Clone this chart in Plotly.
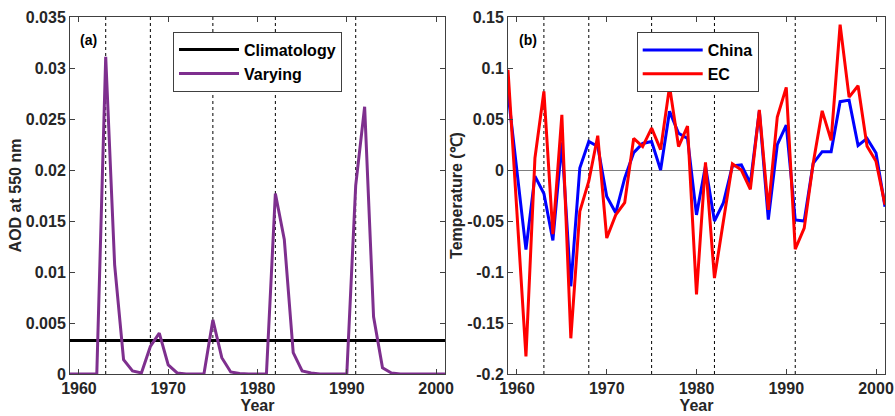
import plotly.graph_objects as go

years = list(range(1959, 2002))

aod_varying = [0, 0, 0, 0, 0.0311, 0.0107, 0.0014, 0.0003, 0.0001, 0.0027, 0.0040,
               0.0009, 0.0001, 0, 0, 0, 0.0053, 0.0016, 0.0002, 0.00005, 0, 0, 0,
               0.0177, 0.0132, 0.0021, 0.0003, 0.0001, 0, 0, 0, 0, 0.0185, 0.0262,
               0.0056, 0.0006, 0.0001, 0, 0, 0, 0, 0, 0]
aod_climatology = 0.00328

temp_china = [0.0755, -0.002, -0.078, -0.006, -0.023, -0.069, 0.027, -0.114, 0.002, 0.028,
              0.023, -0.026, -0.042, -0.008, 0.017, 0.026, 0.028, 0.0, 0.0575, 0.036,
              0.031, -0.044, 0.004, -0.050, -0.032, 0.004, 0.005, -0.013, 0.058, -0.0487,
              0.0248, 0.044, -0.049, -0.050, 0.0066, 0.018, 0.018, 0.067, 0.0685, 0.024,
              0.031, 0.0167, -0.036]
temp_ec = [0.0983, -0.042, -0.1827, 0.0117, 0.077, -0.063, 0.054, -0.165, -0.0406, -0.011,
           0.0336, -0.0667, -0.044, -0.032, 0.031, 0.023, 0.041, 0.020, 0.082, 0.023,
           0.043, -0.122, 0.0075, -0.106, -0.05, 0.006, 0.0, -0.019, 0.059, -0.039,
           0.052, 0.081, -0.0775, -0.057, 0.0066, 0.058, 0.029, 0.1425, 0.0715, 0.0826,
           0.0233, 0.0085, -0.034]

volcano_years = [1963, 1968, 1975, 1982, 1991]

x_ticks = [1960, 1970, 1980, 1990, 2000]
aod_ticks = [0, 0.005, 0.01, 0.015, 0.02, 0.025, 0.03, 0.035]
aod_ticktext = ["0", "0.005", "0.01", "0.015", "0.02", "0.025", "0.03", "0.035"]
temp_ticks = [-0.2, -0.15, -0.1, -0.05, 0, 0.05, 0.1, 0.15]
temp_ticktext = ["-0.2", "-0.15", "-0.1", "-0.05", "0", "0.05", "0.1", "0.15"]

FONT = "Liberation Sans, Arial, sans-serif"
W, H = 895, 416
ML, MR, MT, MB = 70, 10, 17, 42
PW, PH = W - ML - MR, H - MT - MB


def px(x):
    return (x - ML) / PW


def py(y):
    return 1 - (y - MT) / PH


fig = go.Figure()

fig.add_trace(go.Scatter(x=years, y=[aod_climatology] * len(years), mode="lines",
                         line=dict(color="black", width=3), name="Climatology",
                         xaxis="x", yaxis="y", legend="legend"))
fig.add_trace(go.Scatter(x=years, y=aod_varying, mode="lines",
                         line=dict(color="#7E2F8E", width=3), name="Varying",
                         xaxis="x", yaxis="y", legend="legend"))
fig.add_trace(go.Scatter(x=years, y=temp_china, mode="lines",
                         line=dict(color="#0000FF", width=3), name="China",
                         xaxis="x2", yaxis="y2", legend="legend2"))
fig.add_trace(go.Scatter(x=years, y=temp_ec, mode="lines",
                         line=dict(color="#FF0000", width=3), name="EC",
                         xaxis="x2", yaxis="y2", legend="legend2"))

shapes = []
for xr, yr in (("x", "y"), ("x2", "y2")):
    for vy in volcano_years:
        shapes.append(dict(type="line", xref=xr, yref=yr + " domain", x0=vy, x1=vy,
                           y0=0, y1=1, line=dict(color="black", width=1, dash="3px,3px"),
                           layer="below"))

axis_common = dict(showline=True, mirror="ticks", linecolor="#404040", linewidth=1,
                   ticks="inside", ticklen=5, tickcolor="#404040", showgrid=False,
                   automargin=False,
                   tickfont=dict(family=FONT, size=16, color="#262626", weight="bold"))

title_font = dict(family=FONT, size=16, color="#262626", weight="bold")

fig.update_layout(
    width=W, height=H,
    margin=dict(l=ML, r=MR, t=MT, b=MB, autoexpand=False),
    paper_bgcolor="white", plot_bgcolor="white",
    showlegend=True,
    shapes=shapes,
    xaxis=dict(domain=[0, px(445)], range=[1959, 2001], tickvals=x_ticks,
               title=dict(text="Year", font=title_font, standoff=0), anchor="y",
               zeroline=False, **axis_common),
    yaxis=dict(domain=[0, 1], range=[0, 0.035], tickvals=aod_ticks,
               ticktext=aod_ticktext, title=dict(text="AOD at 550 nm", font=title_font, standoff=0),
               anchor="x", zeroline=False, **axis_common),
    xaxis2=dict(domain=[px(508), 1], range=[1959, 2001], tickvals=x_ticks,
                title=dict(text="Year", font=title_font, standoff=0), anchor="y2",
                zeroline=False, **axis_common),
    yaxis2=dict(domain=[0, 1], range=[-0.2, 0.15], tickvals=temp_ticks,
                ticktext=temp_ticktext, title=dict(text="Temperature (℃)", font=title_font, standoff=0),
                anchor="x2", zeroline=True, zerolinecolor="#808080", zerolinewidth=1,
                **axis_common),
    legend=dict(x=px(173), y=py(31.7), xanchor="left", yanchor="top",
                bgcolor="white", bordercolor="#404040", borderwidth=1,
                font=dict(family=FONT, size=16, color="black", weight="bold"),
                itemwidth=60, tracegroupgap=0),
    legend2=dict(x=px(636.7), y=py(32), xanchor="left", yanchor="top",
                 bgcolor="white", bordercolor="#404040", borderwidth=1,
                 font=dict(family=FONT, size=16, color="black", weight="bold"),
                 itemwidth=60, tracegroupgap=0),
    annotations=[
        dict(text="(a)", xref="paper", yref="paper", x=px(78), y=py(40),
             xanchor="left", yanchor="middle", showarrow=False,
             font=dict(family=FONT, size=14, color="black", weight="bold")),
        dict(text="(b)", xref="paper", yref="paper", x=px(517), y=py(40),
             xanchor="left", yanchor="middle", showarrow=False,
             font=dict(family=FONT, size=14, color="black", weight="bold")),
    ],
)

fig.write_html("out.html", config={"displayModeBar": False},
               post_script="document.body.style.margin='0';document.body.style.overflow='hidden';")
